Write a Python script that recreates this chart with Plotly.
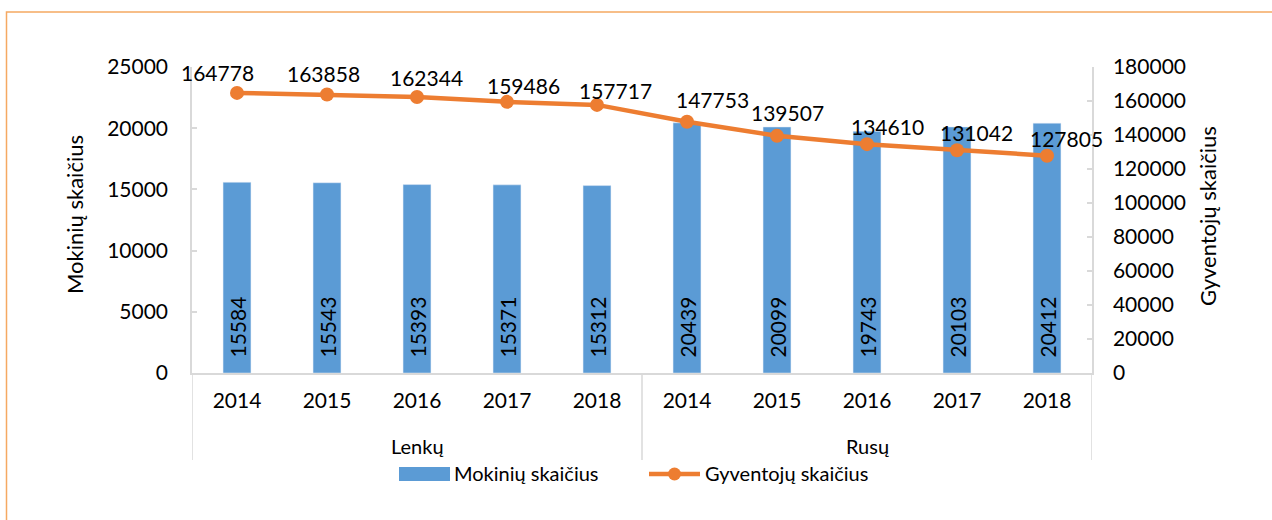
import plotly.graph_objects as go

groups = ["Lenkų", "Rusų"]
years = ["2014", "2015", "2016", "2017", "2018"]
categories = [(g, y) for g in groups for y in years]
mokiniai = [15584, 15543, 15393, 15371, 15312, 20439, 20099, 19743, 20103, 20412]
gyventojai = [164778, 163858, 162344, 159486, 157717, 147753, 139507, 134610, 131042, 127805]
left_ticks = [0, 5000, 10000, 15000, 20000, 25000]
right_ticks = [0, 20000, 40000, 60000, 80000, 100000, 120000, 140000, 160000, 180000]

# label nudges (styling, pixels)
label_dx = [-20, -4, 9, 16, 18, 25, 10, 20, 19, 19]
label_dy = [20, 21, 20, 16, 14, 22, 23, 18, 18, 17]

BLUE = "#5B9BD5"
ORANGE = "#ED7D31"
GRAY = "#D9D9D9"
FONT = "Lato"
FS = 21      # numbers
FT = 20      # text labels
FA = 22      # axis titles

W, H = 1272, 520
L, R, T, B = 192, 180, 67, 147
PW, PH = W - L - R, H - T - B

def px_x(p):
    return (p - L) / PW

def px_y(p):
    return (H - B - p) / PH

xs = list(range(len(categories)))

fig = go.Figure()
fig.add_trace(go.Bar(x=xs, y=mokiniai, name="Mokinių skaičius", marker_color=BLUE,
                     width=0.31, showlegend=False, yaxis="y"))
fig.add_trace(go.Scatter(x=xs, y=gyventojai, name="Gyventojų skaičius", mode="lines+markers",
                         line=dict(color=ORANGE, width=4.5), marker=dict(size=14, color=ORANGE),
                         showlegend=False, yaxis="y2"))

annotations = []
for i, v in enumerate(mokiniai):
    annotations.append(dict(x=i, y=0, xref="x", yref="y", text=str(v), textangle=-90,
                            showarrow=False, yanchor="bottom", xanchor="center", yshift=13,
                            font=dict(family=FONT, size=FS, color="black")))
for i, v in enumerate(gyventojai):
    annotations.append(dict(x=i, y=v, xref="x", yref="y2", text=str(v), showarrow=False,
                            yanchor="middle", xanchor="center", xshift=label_dx[i], yshift=label_dy[i],
                            font=dict(family=FONT, size=FS, color="black")))
# group labels
for gi, g in enumerate(groups):
    annotations.append(dict(x=gi * 5 + 2, y=px_y(446), xref="x", yref="paper", text=g,
                            showarrow=False, yanchor="middle", xanchor="center",
                            font=dict(family=FONT, size=FT, color="black")))
# axis titles
annotations.append(dict(x=px_x(75), y=px_y(215), xref="paper", yref="paper", text="Mokinių skaičius",
                        textangle=-90, showarrow=False, xanchor="center", yanchor="middle",
                        font=dict(family=FONT, size=FA, color="black")))
annotations.append(dict(x=px_x(1207), y=px_y(216), xref="paper", yref="paper", text="Gyventojų skaičius",
                        textangle=-90, showarrow=False, xanchor="center", yanchor="middle",
                        font=dict(family=FONT, size=FA, color="black")))
# legend texts
annotations.append(dict(x=px_x(452), y=px_y(473), xref="paper", yref="paper", text="Mokinių skaičius",
                        showarrow=False, xanchor="left", yanchor="middle",
                        font=dict(family=FONT, size=FT, color="black")))
annotations.append(dict(x=px_x(703), y=px_y(473), xref="paper", yref="paper", text="Gyventojų skaičius",
                        showarrow=False, xanchor="left", yanchor="middle",
                        font=dict(family=FONT, size=FT, color="black")))

shapes = []
# category separators
for xv in [-0.5, 4.5, 9.5]:
    shapes.append(dict(type="line", xref="x", yref="paper", x0=xv, x1=xv, y0=0, y1=px_y(460),
                       line=dict(color=GRAY, width=1.5)))
# legend symbols
shapes.append(dict(type="rect", xref="paper", yref="paper", x0=px_x(399), x1=px_x(450),
                   y0=px_y(481), y1=px_y(467), fillcolor=BLUE, line=dict(width=0)))
shapes.append(dict(type="line", xref="paper", yref="paper", x0=px_x(649), x1=px_x(700),
                   y0=px_y(474), y1=px_y(474), line=dict(color=ORANGE, width=4.5)))
shapes.append(dict(type="circle", xref="paper", yref="paper", x0=px_x(668), x1=px_x(681),
                   y0=px_y(480.5), y1=px_y(467.5), fillcolor=ORANGE, line=dict(width=0)))
# outer border
shapes.append(dict(type="rect", xref="paper", yref="paper", x0=px_x(6.5), x1=px_x(1290),
                   y0=px_y(540), y1=px_y(12), line=dict(color="#F5A962", width=1.5),
                   fillcolor="rgba(0,0,0,0)"))

fig.update_layout(
    width=W, height=H,
    margin=dict(l=L, r=R, t=T, b=B, autoexpand=False),
    paper_bgcolor="white", plot_bgcolor="white",
    font=dict(family=FONT, size=FS, color="black"),
    xaxis=dict(range=[-0.5, 9.5], tickvals=xs, ticktext=[c[1] for c in categories],
               showgrid=False, zeroline=False, showline=True, linecolor=GRAY, linewidth=1.5,
               ticks="", ticklabelstandoff=8, tickfont=dict(family=FONT, size=FS, color="black"),
               fixedrange=True),
    yaxis=dict(range=[0, 25000], tickvals=left_ticks, tickformat="d", showgrid=False, zeroline=False,
               showline=True, linecolor=GRAY, linewidth=1.5, ticks="inside", ticklen=5,
               tickcolor=GRAY, tickwidth=1.5, ticklabelstandoff=18,
               tickfont=dict(family=FONT, size=FS, color="black")),
    yaxis2=dict(range=[0, 180000], tickvals=right_ticks, tickformat="d", overlaying="y", side="right",
                showgrid=False, zeroline=False, showline=True, linecolor=GRAY, linewidth=1.5,
                ticks="inside", ticklen=5, tickcolor=GRAY, tickwidth=1.5, ticklabelstandoff=15,
                tickfont=dict(family=FONT, size=FS, color="black")),
    annotations=annotations,
    shapes=shapes,
    showlegend=False,
)

fig.write_html("out.html", config={"displayModeBar": False},
               post_script="document.body.style.margin='0px';document.body.style.overflow='hidden';")
